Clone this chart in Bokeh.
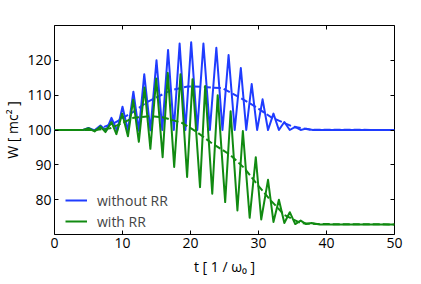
from bokeh.plotting import figure
from bokeh.models import LinearAxis, FixedTicker, Legend, LegendItem, Range1d, CustomJSTickFormatter
from bokeh.embed import file_html
from bokeh.resources import INLINE

# ---- data ----
t_blue = [0, 4.2, 5.0, 5.9, 6.76, 7.6, 8.38, 9.2, 10.0, 10.8, 11.6, 12.4, 13.2, 14.1,
          15.0, 15.85, 16.7, 17.55, 18.4, 19.25, 20.1, 21.0, 21.9, 22.85, 23.8, 24.7,
          25.6, 26.5, 27.4, 28.2, 29.0, 29.8, 30.6, 31.4, 32.2, 33.0, 33.8, 34.6, 35.4,
          36.2, 37.0, 38.0, 50]
w_blue = [100, 100, 100.6, 99.9, 101.3, 99.8, 103.5, 99.8, 106.7, 99.8, 111.0, 99.8, 116.0, 99.9,
          120.0, 100, 123.0, 100, 124.8, 100, 125.2, 100, 124.8, 100, 123.6, 100,
          121.5, 100, 117.8, 100, 113.2, 100, 108.8, 100, 104.7, 100, 102.3, 100, 100.9,
          100, 100.4, 100, 100]

t_green = [0, 4.2, 5.0, 5.9, 6.76, 7.5, 8.38, 9.1, 9.96, 10.8, 11.57, 12.4, 13.24, 14.1,
           14.96, 15.9, 16.66, 17.6, 18.53, 19.5, 20.3, 21.4, 22.16, 23.2, 24.0, 25.1,
           25.9, 26.9, 27.7, 28.7, 29.6, 30.4, 31.4, 32.2, 33.0, 33.8, 34.6, 35.4, 36.2,
           37.0, 37.8, 39.0, 50]
w_green = [100, 100, 100.5, 99.6, 101.0, 99.4, 102.3, 98.8, 104.7, 98.2, 108.7, 96.6, 112.2, 94.6,
           114.8, 92.2, 116.4, 89.4, 116.0, 86.5, 114.6, 83.6, 112.6, 81.7, 110.0, 79.3,
           105.4, 76.9, 99.7, 74.8, 92.2, 74.3, 85.7, 73.6, 80.0, 73.3, 76.4, 73.0, 74.0,
           73.0, 73.3, 72.9, 72.9]

t_blue_mean = [0, 6.0, 8.7, 11.6, 13.6, 17.1, 19.6, 21.5, 24.7, 26.8, 29.3, 32.0, 35.0, 37.6, 50]
w_blue_mean = [100, 100, 101.9, 105.2, 108.0, 111.4, 112.5, 112.4, 112.0, 109.8, 107.0, 103.5, 101.0, 100.1, 100]

t_green_mean = [0, 6.0, 8.2, 10.0, 11.6, 14.1, 16.0, 18.8, 20.8, 23.0, 25.8, 27.9, 29.8, 31.7, 33.8, 36.2, 38.4, 50]
w_green_mean = [100, 100, 100.5, 102.0, 103.5, 104.0, 103.6, 102.0, 99.6, 96.4, 92.9, 89.1, 84.4, 80.0, 75.6, 73.3, 73.0, 72.9]

x_ticks = [0, 10, 20, 30, 40, 50]
y_ticks = [80, 90, 100, 110, 120]
labels = ["without RR", "with RR"]

BLUE = "#1f3cff"
GREEN = "#118a11"
FONT = "Open Sans"

p = figure(frame_width=340, frame_height=209, output_backend="svg", toolbar_location=None,
           x_range=Range1d(0, 50), y_range=Range1d(70, 130),
           min_border_left=46, min_border_right=19, min_border_top=25, min_border_bottom=42)
p.grid.visible = False
p.outline_line_color = "black"
p.outline_line_width = 1
p.background_fill_color = "white"
p.border_fill_color = "white"

b = p.line(t_blue, w_blue, line_color=BLUE, line_width=2, line_join="round")
p.line(t_blue_mean, w_blue_mean, line_color=BLUE, line_width=2, line_dash="7 3")
g = p.line(t_green, w_green, line_color=GREEN, line_width=2, line_join="round")
p.line(t_green_mean, w_green_mean, line_color=GREEN, line_width=2, line_dash="7 3")

def style(ax, ticks):
    ax.ticker = FixedTicker(ticks=ticks, minor_ticks=[])
    ax.major_tick_in = 4
    ax.major_tick_out = 0
    ax.major_tick_line_color = "black"
    ax.minor_tick_line_color = None
    ax.axis_line_color = None
    ax.major_label_text_font = FONT
    ax.major_label_text_color = "black"
    ax.major_label_text_font_size = "14px"
    ax.axis_label_text_font = FONT
    ax.axis_label_text_font_style = "normal"
    ax.axis_label_text_color = "black"
    ax.axis_label_text_font_size = "14px"

style(p.xaxis[0], x_ticks)
style(p.yaxis[0], y_ticks)
p.xaxis[0].axis_label = "t [ 1 / ω₀ ]"
p.yaxis[0].axis_label = "W [ mc² ]"
p.xaxis[0].major_label_standoff = 3
p.xaxis[0].axis_label_standoff = 6
p.yaxis[0].major_label_standoff = 3
p.yaxis[0].axis_label_standoff = 2

top = LinearAxis(formatter=CustomJSTickFormatter(code="return ''"))
style(top, x_ticks)
top.major_label_standoff = 0
p.add_layout(top, "above")
right = LinearAxis(formatter=CustomJSTickFormatter(code="return ''"))
style(right, y_ticks)
right.major_label_standoff = 0
p.add_layout(right, "right")

legend = Legend(items=[LegendItem(label=labels[0], renderers=[b]),
                       LegendItem(label=labels[1], renderers=[g])],
                location=(11, 3), padding=0, margin=0, spacing=1,
                glyph_width=22, glyph_height=20, label_height=20, label_standoff=10,
                label_text_font=FONT, label_text_font_size="14px",
                border_line_alpha=0, background_fill_alpha=0)
p.add_layout(legend, "center")

open("out.html", "w").write(file_html(p, INLINE))
